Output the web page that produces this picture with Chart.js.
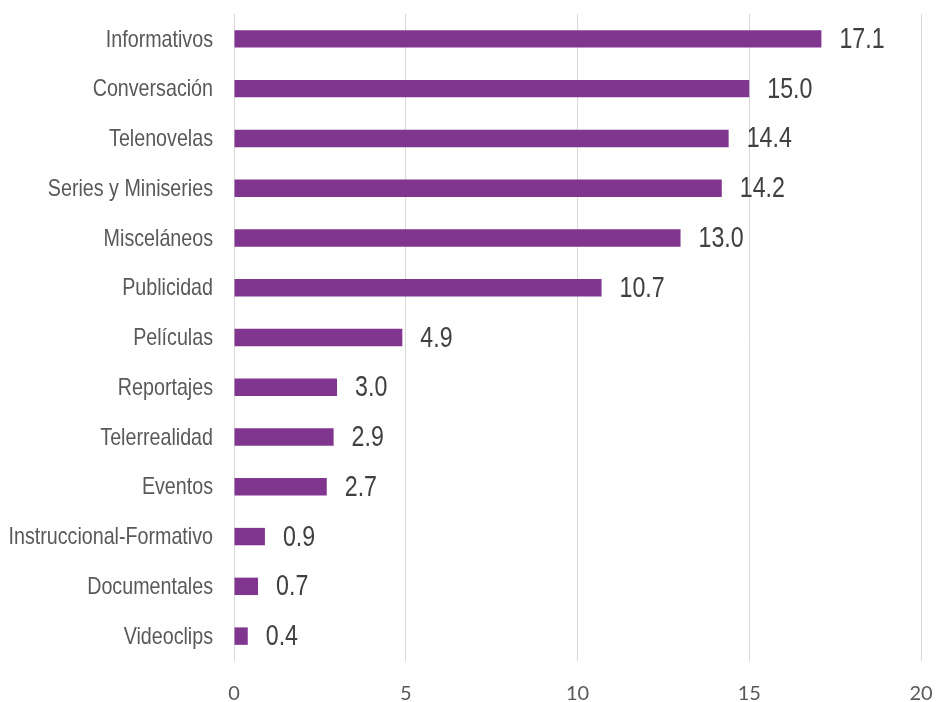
<!DOCTYPE html>
<html>
<head>
<meta charset="utf-8">
<script src="https://cdn.jsdelivr.net/npm/chart.js@4.4.8/dist/chart.umd.min.js"></script>
<style>
  html, body { margin: 0; padding: 0; background: #fff; }
  #wrap { width: 936px; height: 702px; }
</style>
</head>
<body>
<div id="wrap"><canvas id="myChart" width="936" height="702"></canvas></div>
<script>
  // datos
  const categorias = ['Informativos', 'Conversación', 'Telenovelas', 'Series y Miniseries', 'Misceláneos',
    'Publicidad', 'Películas', 'Reportajes', 'Telerrealidad', 'Eventos',
    'Instruccional-Formativo', 'Documentales', 'Videoclips'];
  const valores = [17.1, 15.0, 14.4, 14.2, 13.0, 10.7, 4.9, 3.0, 2.9, 2.7, 0.9, 0.7, 0.4];
  const ticksX = [0, 5, 10, 15, 20];

  // no hay Arial Narrow: se comprime Liberation Sans en horizontal
  function textoEstrecho(c, txt, x, y, align, k) {
    c.save();
    c.translate(x, y);
    c.scale(k, 1);
    c.textAlign = align;
    c.fillText(txt, 0, 0);
    c.restore();
  }

  // etiquetas de categoría y de valor
  const etiquetas = {
    id: 'etiquetas',
    afterDatasetsDraw(chart) {
      const c = chart.ctx;
      const meta = chart.getDatasetMeta(0);
      const ys = chart.scales.y;
      c.save();
      c.textBaseline = 'middle';
      c.font = '24px "Liberation Sans", Arial, sans-serif';
      c.fillStyle = '#595959';
      categorias.forEach((cat, i) => {
        textoEstrecho(c, cat, ys.right - 21, ys.getPixelForTick(i) + 1, 'right', 0.82);
      });
      c.font = '29px "Liberation Sans", Arial, sans-serif';
      c.fillStyle = '#404040';
      meta.data.forEach((bar, i) => {
        textoEstrecho(c, valores[i].toFixed(1), bar.x + 18, bar.y + 1, 'left', 0.8);
      });
      c.restore();
    }
  };

  function sinRelleno(s) {
    s.paddingTop = 0; s.paddingBottom = 0; s.paddingLeft = 0; s.paddingRight = 0;
  }

  const chart = new Chart(document.getElementById('myChart'), {
    type: 'bar',
    data: {
      labels: categorias,
      datasets: [{
        data: valores,
        backgroundColor: '#80358f',
        borderWidth: 0,
        barPercentage: 0.7,
        categoryPercentage: 0.5
      }]
    },
    options: {
      indexAxis: 'y',
      responsive: false,
      animation: false,
      layout: { padding: { top: 14, right: 15, left: 0, bottom: 0 } },
      plugins: { legend: { display: false }, tooltip: { enabled: false } },
      scales: {
        x: {
          min: 0,
          max: 20,
          afterBuildTicks: s => { s.ticks = ticksX.map(v => ({ value: v })); },
          afterFit: s => { s.height = 41; sinRelleno(s); },
          grid: { color: '#d9d9d9', lineWidth: 1, drawTicks: false },
          border: { display: false },
          ticks: { padding: 21, color: '#595959', font: { family: 'Lato', size: 20 } }
        },
        y: {
          afterFit: s => { s.width = 234; sinRelleno(s); },
          grid: { display: false, drawTicks: false },
          border: { display: false },
          ticks: { display: false }
        }
      }
    },
    plugins: [etiquetas]
  });
</script>
</body>
</html>
